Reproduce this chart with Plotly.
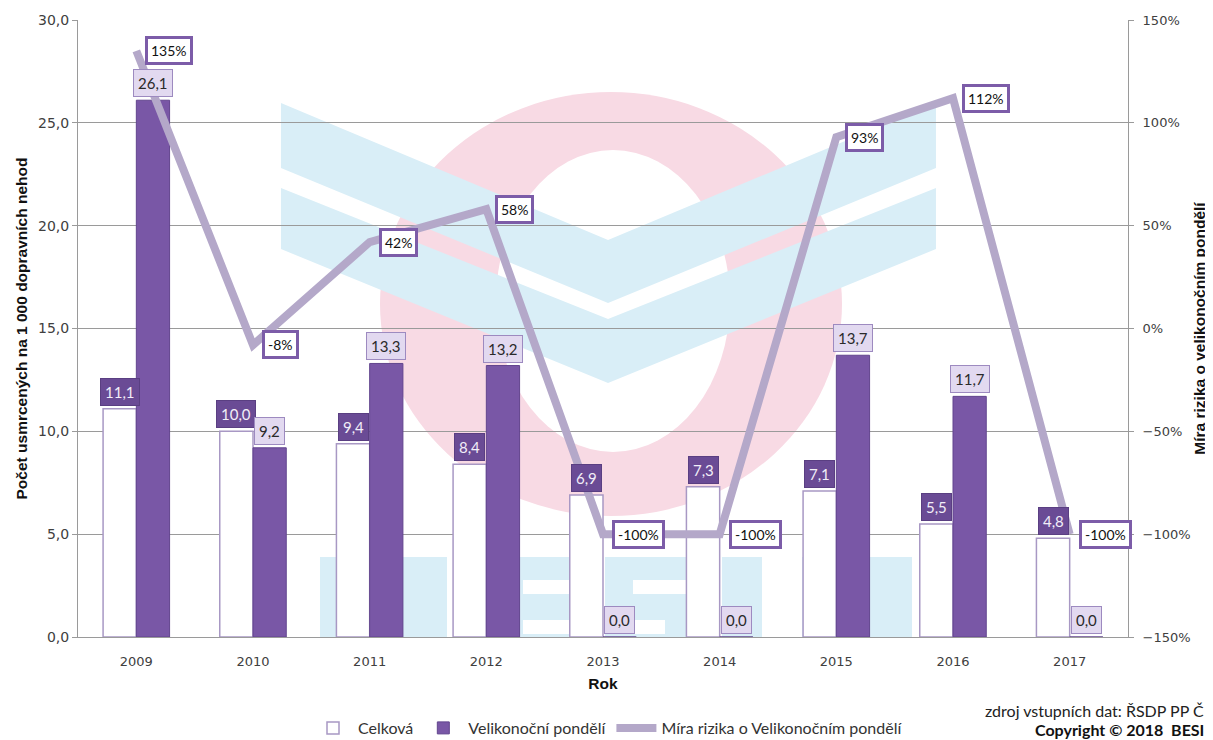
import plotly.graph_objects as go

years = ["2009", "2010", "2011", "2012", "2013", "2014", "2015", "2016", "2017"]
celkova = [11.1, 10.0, 9.4, 8.4, 6.9, 7.3, 7.1, 5.5, 4.8]
velikonocni = [26.1, 9.2, 13.3, 13.2, 0.0, 0.0, 13.7, 11.7, 0.0]
mira = [135, -8, 42, 58, -100, -100, 93, 112, -100]

name_c = "Celková"
name_v = "Velikonoční pondělí"
name_m = "Míra rizika o Velikonočním pondělí"
y1_title = "Počet usmrcených na 1 000 dopravních nehod"
y2_title = "Míra rizika o velikonočním pondělí"
x_title = "Rok"
source_txt = "zdroj vstupních dat: ŘSDP PP Č"
copy_txt = "<b>Copyright © 2018  BESI</b>"

# page geometry (pixels); the html body places the figure 8px in from the corner
OFF = 8
PAGE_W, PAGE_H = 1213, 740
W, H = PAGE_W - OFF, PAGE_H - OFF
L, R, T, B = 78, 1128, 20, 637   # plot area in page pixels

def px(x):
    return (x - L) / (R - L)

def py(y):
    return (B - y) / (B - T)

def path(points):
    return "M " + " L ".join(f"{px(x):.4f},{py(y):.4f}" for x, y in points) + " Z"

fmt = lambda v: f"{v:.1f}".replace(".", ",")

fig = go.Figure()
fig.add_trace(go.Bar(
    x=years, y=celkova, name=name_c,
    marker=dict(color="white", line=dict(color="#a898c4", width=1.5)),
))
fig.add_trace(go.Bar(
    x=years, y=velikonocni, name=name_v,
    marker=dict(color="#7957a6", line=dict(color="#62458e", width=1)),
))
fig.add_trace(go.Scatter(
    x=years, y=mira, name=name_m, yaxis="y2", mode="lines",
    line=dict(color="#b4a8c9", width=8),
))

ann = []
label_font = dict(family="Lato, Open Sans, sans-serif", size=15)
for i, v in enumerate(celkova):
    ann.append(dict(x=i, y=v, xref="x", yref="y", text=fmt(v), showarrow=False,
                    xanchor="center", yanchor="bottom", xshift=-16.6, yshift=3,
                    font=dict(color="#f2eef8", **label_font), bgcolor="#6a4b95",
                    bordercolor="#5a3f82", borderwidth=1, borderpad=4))
for i, v in enumerate(velikonocni):
    ann.append(dict(x=i, y=v, xref="x", yref="y", text=fmt(v), showarrow=False,
                    xanchor="center", yanchor="bottom", xshift=16.6, yshift=3,
                    font=dict(color="#2a2a2a", **label_font), bgcolor="#e2d9f0",
                    bordercolor="#9d8ac0", borderwidth=1, borderpad=4))
for i, v in enumerate(mira):
    ann.append(dict(x=i, y=v, xref="x", yref="y2", text=f"{v}%", showarrow=False,
                    xanchor="left", yanchor="middle", xshift=9,
                    font=dict(color="#111111", family="Lato, Open Sans, sans-serif", size=14),
                    bgcolor="white", bordercolor="#7c5ca8", borderwidth=3, borderpad=3))
ann.append(dict(x=px(1206), y=py(710), xref="paper", yref="paper", text=source_txt,
                showarrow=False, xanchor="right", yanchor="middle",
                font=dict(family="Lato, Open Sans, sans-serif", size=16, color="#222222")))
ann.append(dict(x=px(1206), y=py(729), xref="paper", yref="paper", text=copy_txt,
                showarrow=False, xanchor="right", yanchor="middle",
                font=dict(family="Lato, Open Sans, sans-serif", size=16, color="#111111")))

pink = "#f8dae4"
blue = "#d9eef7"
shapes = [
    dict(type="circle", xref="paper", yref="paper", layer="below",
         x0=px(380), x1=px(842), y0=py(92), y1=py(516), fillcolor=pink, line=dict(width=0)),
    dict(type="circle", xref="paper", yref="paper", layer="below",
         x0=px(496), x1=px(730), y0=py(150), y1=py(452), fillcolor="white", line=dict(width=0)),
    dict(type="path", xref="paper", yref="paper", layer="below", fillcolor=blue, line=dict(width=0),
         path=path([(281, 103), (608, 240), (936, 103), (936, 168), (608, 303), (281, 168)])),
    dict(type="path", xref="paper", yref="paper", layer="below", fillcolor=blue, line=dict(width=0),
         path=path([(281, 188), (608, 319), (936, 188), (936, 249), (608, 383), (281, 249)])),
]
# BESIP letters (partially visible watermark)
for x0, x1 in [(320, 447), (455, 570), (605, 688), (722, 762), (802, 912)]:
    shapes.append(dict(type="rect", xref="paper", yref="paper", layer="below",
                       x0=px(x0), x1=px(x1), y0=py(557), y1=py(637),
                       fillcolor=blue, line=dict(width=0)))
for x0, x1, y0, y1 in [(523, 570, 580, 594), (523, 570, 620, 634),
                       (633, 688, 580, 594), (605, 665, 620, 634)]:
    shapes.append(dict(type="rect", xref="paper", yref="paper", layer="below",
                       x0=px(x0), x1=px(x1), y0=py(y0), y1=py(y1),
                       fillcolor="white", line=dict(width=0)))

tick_font_l = dict(family="DejaVu Sans, Verdana, sans-serif", size=14, color="#404040")
tick_font_r = dict(family="DejaVu Sans, Verdana, sans-serif", size=13, color="#404040")
tick_font_x = dict(family="DejaVu Sans, Verdana, sans-serif", size=13, color="#404040")
title_font = dict(family="Liberation Sans Narrow, Arial Narrow, Liberation Sans, sans-serif",
                  size=15.5, color="#111111")

fig.update_layout(
    width=W, height=H,
    margin=dict(l=L - OFF, r=W - (R - OFF), t=T - OFF, b=H - (B - OFF), pad=0,
                autoexpand=False),
    paper_bgcolor="white", plot_bgcolor="white",
    separators=", ",
    barmode="group", bargap=0.43, bargroupgap=0,
    showlegend=True,
    legend=dict(orientation="h", x=px(308), y=py(711), xanchor="left", yanchor="top",
                font=dict(family="Lato, Open Sans, sans-serif", size=16, color="#333333"),
                itemwidth=40, tracegroupgap=0, bgcolor="rgba(0,0,0,0)"),
    xaxis=dict(type="category", categoryorder="array", categoryarray=years,
               range=[-0.5, len(years) - 0.5], autorange=False, automargin=False,
               showgrid=False, showline=True, linecolor="#9a9a9a", linewidth=1,
               ticks="", tickfont=tick_font_x, ticklabelstandoff=12,
               title=dict(text=f"<b>{x_title}</b>", font=title_font, standoff=10)),
    yaxis=dict(range=[0, 30], dtick=5, tickformat=".1f", showgrid=True, gridcolor="#9a9a9a",
               gridwidth=1, showline=True, linecolor="#9a9a9a", ticks="outside", ticklen=5,
               tickcolor="#9a9a9a", tickfont=tick_font_l, zeroline=False, automargin=False,
               title=dict(text=f"<b>{y1_title}</b>", font=title_font, standoff=6)),
    yaxis2=dict(range=[-150, 150], dtick=50, ticksuffix="%", overlaying="y", side="right",
                showgrid=False, showline=True, linecolor="#9a9a9a", ticks="outside", ticklen=5,
                tickcolor="#9a9a9a", tickfont=tick_font_r, zeroline=False, ticklabelstandoff=6,
                automargin=False,
                title=dict(text=f"<b>{y2_title}</b>", font=title_font, standoff=4)),
    annotations=ann,
    shapes=shapes,
)

fig.write_html("out.html")
